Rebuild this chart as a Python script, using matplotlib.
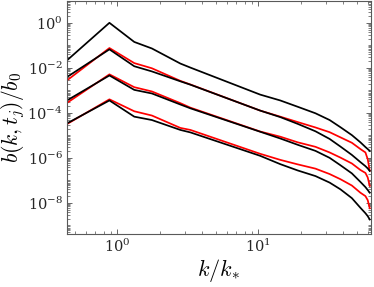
import numpy as np
import matplotlib
matplotlib.use("Agg")
import matplotlib.pyplot as plt
from matplotlib.ticker import LogLocator, NullFormatter

plt.rcParams['mathtext.fontset'] = 'cm'
plt.rcParams['font.family'] = 'DejaVu Serif'

# k/k_* sample points
k = [0.44, 0.88, 1.32, 1.76, 2.8, 3.3, 10.3, 14.3, 19.0, 25.4, 32.0, 38.2, 46.0, 52.9, 57.4, 59.6, 61.6]

# log10 b/b0, black curves (top to bottom)
black1 = [-1.67, 0.0, -0.85, -1.14, -1.81, -1.99, -3.19, -3.45, -3.73, -4.02, -4.32, -4.64, -4.99, -5.31, -5.52, -5.61, -5.69]
black2 = [-2.41, -1.18, -1.93, -2.16, -2.60, -2.75, -3.90, -4.19, -4.49, -4.82, -5.16, -5.50, -5.87, -6.19, -6.37, -6.47, -6.58]
black3 = [-3.45, -2.34, -2.98, -3.14, -3.63, -3.80, -4.84, -5.14, -5.42, -5.69, -6.00, -6.33, -6.69, -7.07, -7.30, -7.43, -7.55]
black4 = [-4.47, -3.45, -4.17, -4.32, -4.76, -4.87, -5.91, -6.28, -6.56, -6.81, -7.10, -7.40, -7.79, -8.22, -8.46, -8.59, -8.74]

# red curves (same k points)
red1 = [-2.56, -1.12, -1.79, -2.02, -2.58, -2.74, -3.90, -4.17, -4.41, -4.65, -4.86, -5.09, -5.33, -5.61, -5.76, -6.06, -6.58]
red2 = [-3.56, -2.29, -2.86, -3.05, -3.57, -3.77, -4.83, -5.06, -5.31, -5.51, -5.76, -5.99, -6.25, -6.54, -6.67, -6.87, -7.25]
red3 = [-4.50, -3.40, -3.93, -4.12, -4.67, -4.76, -5.82, -6.09, -6.29, -6.48, -6.72, -6.95, -7.23, -7.55, -7.70, -7.88, -8.24]

fig = plt.figure(figsize=(3.74, 2.87), dpi=100)
ax = fig.add_axes([0.179, 0.185, 0.812, 0.81])

for r in [red1, red2, red3]:
    ax.plot(k, 10.0 ** np.array(r), color='red', lw=1.25)
for b in [black1, black2, black3, black4]:
    ax.plot(k, 10.0 ** np.array(b), color='black', lw=1.25)

ax.set_xscale('log')
ax.set_yscale('log')
ax.set_xlim(0.44, 62.5)
ax.set_ylim(10 ** -9.38, 10 ** 0.95)

ax.set_yticks([1e0, 1e-2, 1e-4, 1e-6, 1e-8])
ax.yaxis.set_minor_locator(LogLocator(base=10, subs=np.arange(1, 10), numticks=30))
ax.yaxis.set_minor_formatter(NullFormatter())
ax.xaxis.set_minor_locator(LogLocator(base=10, subs=np.arange(2, 10), numticks=30))
ax.xaxis.set_minor_formatter(NullFormatter())

ax.tick_params(which='both', direction='in', top=True, right=True,
               labelsize=10.5, colors='0.3', labelcolor='0.15')
ax.tick_params(which='major', length=3.5, width=0.6, pad=3)
ax.tick_params(which='minor', length=2, width=0.5)
for s in ax.spines.values():
    s.set_color('0.35')
    s.set_linewidth(0.8)

ax.set_xlabel(r'$k/k_{*}$', fontsize=16, labelpad=1)
ax.set_ylabel(r'$b(k,t_j)/b_0$', fontsize=15.5, labelpad=0)

fig.savefig('out.png', dpi=100)
